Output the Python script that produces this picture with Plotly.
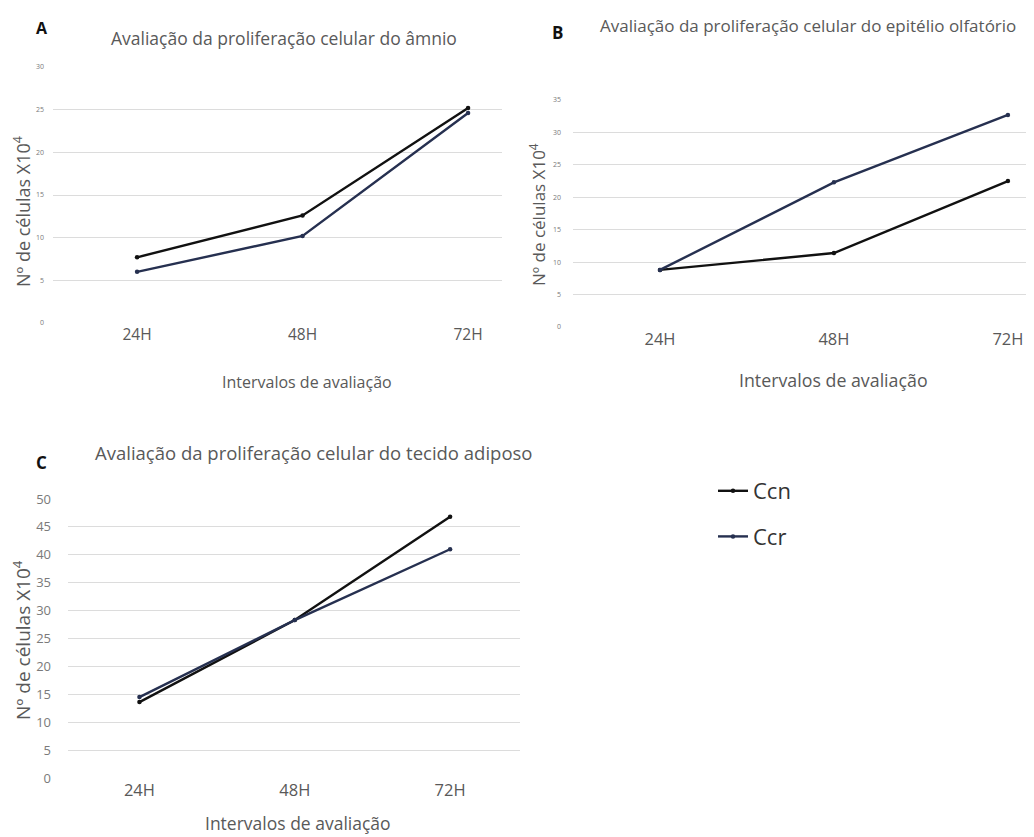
import plotly.graph_objects as go

categories = ["24H", "48H", "72H"]
a_ccn = [7.7, 12.6, 25.2]
a_ccr = [6.0, 10.2, 24.6]
b_ccn = [8.8, 11.4, 22.5]
b_ccr = [8.8, 22.3, 32.7]
c_ccn = [13.6, 28.3, 46.8]
c_ccr = [14.5, 28.3, 41.0]

W, H = 1034, 837
CCN = "#111111"
CCR = "#263050"
GRID = "#dcdcdc"
FONT = "Open Sans"
OFF = 8  # page offset compensation

def px(x):
    return (x - OFF) / W

def py(y):
    return 1 - (y - OFF) / H

fig = go.Figure()

panels = [
    ("x", "y", a_ccn, a_ccr),
    ("x2", "y2", b_ccn, b_ccr),
    ("x3", "y3", c_ccn, c_ccr),
]
for i, (xa, ya, ccn, ccr) in enumerate(panels):
    fig.add_trace(go.Scatter(x=categories, y=ccn, xaxis=xa, yaxis=ya, name="Ccn",
                             mode="lines+markers", line=dict(color=CCN, width=2.4),
                             marker=dict(size=4.5, color=CCN), showlegend=(i == 0),
                             legendgroup="ccn"))
    fig.add_trace(go.Scatter(x=categories, y=ccr, xaxis=xa, yaxis=ya, name="Ccr",
                             mode="lines+markers", line=dict(color=CCR, width=2.4),
                             marker=dict(size=4.5, color=CCR), showlegend=(i == 0),
                             legendgroup="ccr"))

def xaxis(dom, rng, size, anchor):
    return dict(domain=dom, range=rng, type="category", showgrid=False, zeroline=False,
                showline=False, ticks="", anchor=anchor,
                tickfont=dict(size=size, color="#595959", family=FONT), fixedrange=True)

def yaxis(dom, rng, dtick, size, anchor, standoff):
    return dict(domain=dom, range=rng, dtick=dtick, showgrid=True, gridcolor=GRID, gridwidth=1,
                zeroline=False, showline=False, ticks="", anchor=anchor,
                tickfont=dict(size=size, color="#7a7a7a", family=FONT), ticklabelstandoff=standoff)

fig.update_layout(
    width=W, height=H, margin=dict(l=0, r=0, t=0, b=0, autoexpand=False),
    paper_bgcolor="white", plot_bgcolor="white",
    font=dict(family=FONT, color="#595959"),
    xaxis=xaxis([px(53), px(502)], [-0.508, 2.205], 15.5, "y"),
    yaxis=yaxis([py(323), py(67)], [0, 30], 5, 7, "x", 8),
    xaxis2=xaxis([px(573), px(1034)], [-0.5, 2.15], 16.5, "y2"),
    yaxis2=yaxis([py(327), py(100)], [0, 35], 5, 7, "x2", 11),
    xaxis3=xaxis([px(68), px(520)], [-0.46, 2.45], 16.5, "y3"),
    yaxis3=yaxis([py(778), py(499)], [0, 50], 5, 13, "x3", 16),
    legend=dict(x=px(713), y=py(470), xanchor="left", yanchor="top",
                font=dict(size=22, color="#333333", family=FONT),
                tracegroupgap=14, traceorder="grouped", itemwidth=30,
                bgcolor="rgba(0,0,0,0)"),
)

ann = []
def text(x, y, t, size, color="#595959", bold=False, angle=0, xanchor="center"):
    ann.append(dict(x=px(x), y=py(y), xref="paper", yref="paper", text=(f"<b>{t}</b>" if bold else t),
                    showarrow=False, xanchor=xanchor, yanchor="middle", textangle=angle,
                    font=dict(size=size, color=color, family=FONT)))

# panel letters
text(42, 28, "A", 16, "#111111", True)
text(557, 32, "B", 17, "#111111", True)
text(41, 462, "C", 17, "#111111", True)
# titles
text(284, 38, "Avaliação da proliferação celular do âmnio", 17.5)
text(808, 26, "Avaliação da proliferação celular do epitélio olfatório", 17)
text(313, 452, "Avaliação da proliferação celular do tecido adiposo", 18.5)
# x titles
text(307, 382, "Intervalos de avaliação", 16)
text(833, 380, "Intervalos de avaliação", 17.8)
text(298, 823, "Intervalos de avaliação", 17.5)
# y titles
ylab = "Nº de células X10<sup>4</sup>"
text(22, 212, ylab, 18, angle=-90)
text(537, 215, ylab, 17, angle=-90)
text(22, 640, ylab, 19, angle=-90)

fig.update_layout(annotations=ann)
fig.write_html("out.html")
